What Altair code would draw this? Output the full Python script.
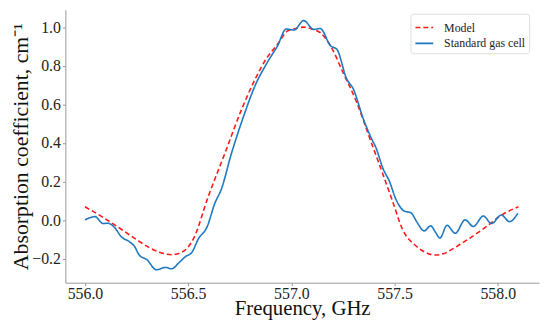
import altair as alt
import pandas as pd

series_names = ["Model", "Standard gas cell"]

model_freq = [556.0, 556.08, 556.167, 556.25, 556.31, 556.36, 556.42, 556.47, 556.526, 556.598,
              556.678, 556.757, 556.821, 556.877, 556.933, 556.98, 557.013, 557.06, 557.1, 557.14,
              557.19, 557.25, 557.316, 557.38, 557.443, 557.49, 557.538, 557.603, 557.667, 557.70,
              557.74, 557.78, 557.858, 557.938, 558.017, 558.1]
model_val = [0.07, 0.02, -0.04, -0.10, -0.14, -0.165, -0.178, -0.165, -0.095, 0.125,
             0.347, 0.569, 0.723, 0.834, 0.911, 0.979, 0.99, 1.0, 0.99, 0.971,
             0.903, 0.766, 0.612, 0.424, 0.24, 0.10, -0.046, -0.132, -0.174, -0.18,
             -0.172, -0.149, -0.097, -0.038, 0.026, 0.07]

cell_freq = [556.0, 556.048, 556.088, 556.11, 556.144, 556.175, 556.215, 556.24, 556.263, 556.30,
             556.346, 556.39, 556.42, 556.455, 556.487, 556.518, 556.55, 556.59, 556.63, 556.66,
             556.71, 556.773, 556.821, 556.885, 556.933, 556.975, 557.013, 557.06, 557.108,
             557.14, 557.19, 557.22, 557.268, 557.3, 557.348, 557.388, 557.411, 557.443, 557.475,
             557.507, 557.547, 557.579, 557.61, 557.643, 557.675, 557.699, 557.72, 557.754, 557.794,
             557.842, 557.882, 557.93, 557.97, 558.017, 558.057, 558.097]
cell_val = [0.002, 0.019, -0.017, -0.015, -0.038, -0.084, -0.111, -0.135, -0.18, -0.204,
            -0.256, -0.244, -0.251, -0.22, -0.188, -0.166, -0.095, -0.038, 0.09, 0.159,
            0.347, 0.552, 0.689, 0.82, 0.903, 0.99, 0.985, 1.034, 0.988,
            0.993, 0.903, 0.886, 0.732, 0.68, 0.527, 0.424, 0.373, 0.27, 0.202,
            0.108, 0.048, 0.039, -0.012, -0.055, -0.029, -0.063, -0.092, -0.026, -0.067,
            0.002, -0.032, 0.022, -0.017, 0.027, -0.007, 0.036]

x_ticks = [556.0, 556.5, 557.0, 557.5, 558.0]
y_ticks = [-0.2, 0.0, 0.2, 0.4, 0.6, 0.8, 1.0]

df = pd.concat([
    pd.DataFrame({"f": model_freq, "v": model_val, "series": series_names[0]}),
    pd.DataFrame({"f": cell_freq, "v": cell_val, "series": series_names[1]}),
])

FONT = "Liberation Serif"
AXIS_GRAY = "#999999"

x = alt.X("f:Q", scale=alt.Scale(domain=[555.905, 558.2], nice=False, zero=False),
          axis=alt.Axis(title="Frequency, GHz", values=x_ticks, format=".1f",
                        labelFont=FONT, labelFontSize=16, labelPadding=0,
                        titleFont=FONT, titleX=239.5, titleY=32, titleBaseline="alphabetic",
                        titleFontSize=21, titleFontWeight="normal"))
y = alt.Y("v:Q", scale=alt.Scale(domain=[-0.323, 1.09], nice=False, zero=False),
          axis=alt.Axis(title="Absorption  coefficient, cm⁻¹", values=y_ticks, format=".1f",
                        labelFont=FONT, labelFontSize=16, labelPadding=2,
                        titleFont=FONT, titleX=-38, titleY=138, titleBaseline="alphabetic",
                        titleAngle=270, titleAlign="center",
                        titleFontSize=22, titleFontWeight="normal"))

legend_kw = dict(title=None, orient="none", legendX=349, legendY=4,
                 symbolType="stroke", symbolSize=324, symbolStrokeWidth=1.6,
                 labelFont=FONT, labelFontSize=12, labelColor="#222",
                 padding=4, rowPadding=0, strokeColor="#dddddd",
                 fillColor="white", cornerRadius=3, labelOffset=10)

color = alt.Color("series:N", scale=alt.Scale(domain=series_names, range=["#ff1a1a", "#1f78c0"]),
                  legend=alt.Legend(**legend_kw))
dash = alt.StrokeDash("series:N", scale=alt.Scale(domain=series_names, range=[[5, 3], [1, 0]]),
                      legend=alt.Legend(**legend_kw))

base = alt.Chart(df).encode(x=x, y=y, color=color, strokeDash=dash)
red = base.transform_filter(alt.datum.series == series_names[0]).mark_line(
    strokeWidth=1.6, interpolate="monotone")
blue = base.transform_filter(alt.datum.series == series_names[1]).mark_line(
    strokeWidth=1.6, interpolate="monotone")

chart = alt.layer(red, blue).properties(
    width=479, height=276,
    autosize=alt.AutoSizeParams(type="none"),
    padding={"left": 58, "top": 0, "right": 3, "bottom": 38},
).configure(font=FONT).configure_view(stroke=None).configure_axis(
    grid=False, domainColor=AXIS_GRAY, tickColor=AXIS_GRAY, tickSize=3,
    labelFont=FONT, titleFont=FONT, labelFontSize=16, labelColor="#222",
    titleColor="#111",
).configure_legend(labelFont=FONT)

chart.save("out.html", embed_options={"renderer": "svg", "actions": False})
